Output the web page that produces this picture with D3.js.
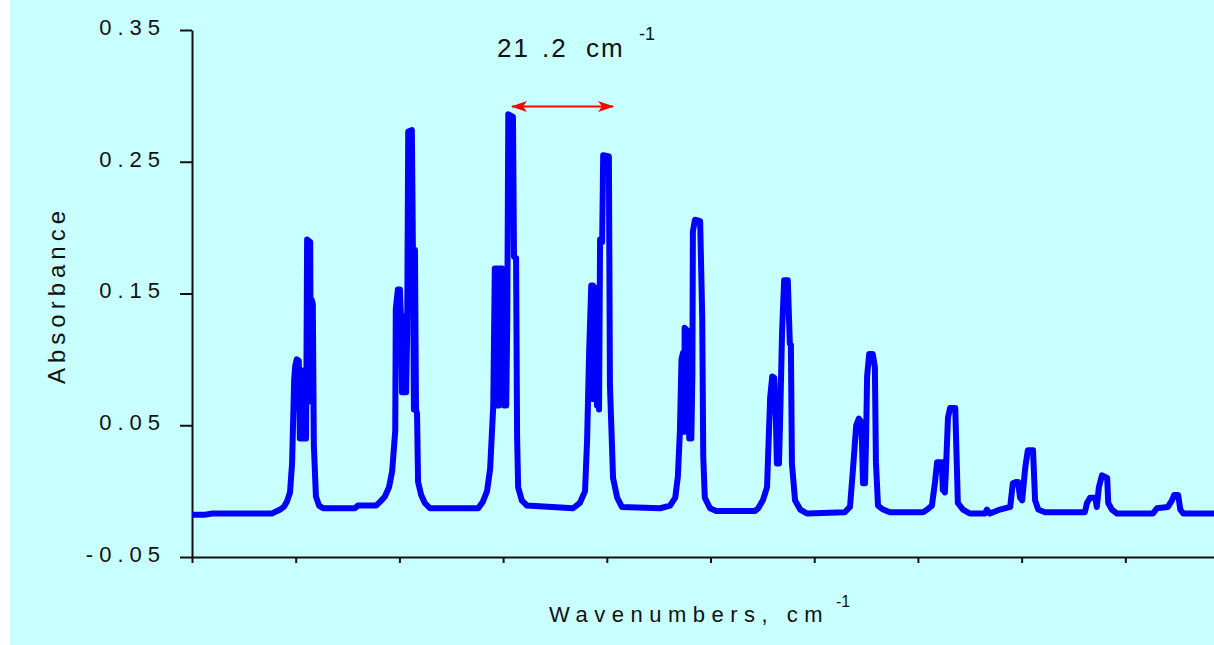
<!DOCTYPE html>
<html>
<head>
<meta charset="utf-8">
<script src="https://cdn.jsdelivr.net/npm/d3@7"></script>
<style>
  html, body { margin: 0; padding: 0; background: #fff; }
  svg { display: block; }
  text { font-family: "Liberation Sans", Arial, sans-serif; fill: #111; }
</style>
</head>
<body>
<div id="chart"></div>
<script>
// spectrum: wavenumber (cm-1) and absorbance
const wavenumbers = [
  2880.0, 2882.3, 2883.9, 2895.4, 2897.0, 2897.7, 2898.3, 2898.9, 2899.3, 2899.7, 2899.9, 2900.2, 2900.6,
  2900.8, 2901.0, 2901.2, 2901.4, 2901.6, 2901.8, 2902.0, 2902.2, 2902.8, 2902.9, 2903.1, 2903.3, 2903.5, 2903.9,
  2904.5, 2905.3, 2911.4, 2912.0, 2915.5, 2916.3, 2917.2, 2918.0, 2918.6, 2919.2, 2919.3, 2919.7, 2920.1,
  2920.3, 2920.5, 2920.7, 2920.9, 2921.1, 2921.3, 2921.5, 2921.7, 2922.4, 2922.6, 2922.8, 2923.0, 2923.2,
  2923.4, 2923.6, 2924.2, 2924.9, 2925.9,
  2935.2, 2936.1, 2936.9, 2937.5, 2938.1, 2938.4, 2938.9, 2938.9, 2939.2, 2939.2, 2939.8, 2940.0, 2940.2,
  2940.4, 2940.6, 2940.8, 2941.0, 2941.9, 2942.1, 2942.5, 2942.7, 2942.9, 2943.6, 2944.6, 2953.5,
  2954.8, 2955.8, 2956.2, 2956.6, 2957.0, 2957.3, 2957.3, 2957.5, 2957.5, 2957.9, 2958.1, 2958.3, 2958.5,
  2958.7, 2959.1, 2959.3, 2960.4, 2960.6, 2961.2, 2962.0, 2962.9, 2970.3,
  2972.2, 2973.2, 2973.7, 2974.1, 2974.4, 2974.7, 2974.7, 2975.0, 2975.0, 2975.5, 2975.7, 2975.9, 2976.1,
  2976.3, 2976.5, 2976.6, 2977.0, 2978.0, 2978.4, 2978.6, 2978.9, 2979.9, 2981.1, 2988.6,
  2989.2, 2990.1, 2990.9, 2991.1, 2991.5, 2991.9, 2992.3, 2992.6, 2992.8, 2993.0, 2993.2, 2993.4, 2993.8,
  2994.2, 2994.9, 2995.3, 2995.5, 2995.7, 2996.3, 2997.3, 2998.6, 3005.9,
  3006.9, 3007.5, 3008.1, 3008.6, 3009.0, 3009.2, 3009.4, 3009.6, 3009.8, 3010.0, 3010.2, 3010.6, 3011.3,
  3011.7, 3011.9, 3012.3, 3013.3, 3014.6, 3021.0,
  3021.8, 3022.7, 3023.3, 3023.7, 3024.6, 3024.8, 3025.0, 3025.2, 3025.4, 3025.8, 3026.2, 3027.2, 3027.5,
  3027.7, 3028.7, 3030.0, 3032.9, 3033.3, 3033.9, 3035.8,
  3037.8, 3038.3, 3038.9, 3039.3, 3039.7, 3040.1, 3040.7, 3041.2, 3042.2, 3042.6, 3043.2, 3044.5, 3052.2,
  3052.6, 3053.2, 3054.2, 3054.5, 3054.9, 3055.5, 3056.5, 3056.7, 3057.4, 3058.4, 3065.3,
  3066.1, 3068.2, 3069.0, 3069.4, 3070.2, 3070.6, 3071.2, 3077.1
];
const absorbance = [
  -0.018, -0.018, -0.017, -0.017, -0.014, -0.012, -0.008, -0.001, 0.021, 0.084, 0.095, 0.100, 0.099,
  0.040, 0.092, 0.040, 0.075, 0.040, 0.075, 0.040, 0.191, 0.189, 0.068, 0.145, 0.142, 0.035, -0.004,
  -0.011, -0.013, -0.013, -0.011, -0.011, -0.008, -0.004, 0.003, 0.015, 0.046, 0.138, 0.153, 0.153,
  0.131, 0.075, 0.133, 0.075, 0.131, 0.075, 0.122, 0.273, 0.274, 0.185, 0.062, 0.183, 0.062,
  0.059, 0.007, -0.003, -0.009, -0.013,
  -0.013, -0.008, 0.000, 0.017, 0.065, 0.169, 0.169, 0.065, 0.065, 0.169, 0.169, 0.131, 0.065,
  0.130, 0.065, 0.128, 0.286, 0.284, 0.178, 0.177, 0.041, 0.003, -0.007, -0.011, -0.013,
  -0.009, 0.000, 0.039, 0.107, 0.156, 0.156, 0.070, 0.070, 0.155, 0.154, 0.065, 0.145, 0.062,
  0.191, 0.189, 0.255, 0.254, 0.081, 0.010, -0.005, -0.012, -0.013,
  -0.011, -0.005, 0.011, 0.046, 0.100, 0.105, 0.045, 0.045, 0.124, 0.122, 0.094, 0.040, 0.092,
  0.040, 0.088, 0.197, 0.206, 0.205, 0.132, 0.026, -0.005, -0.013, -0.015, -0.015,
  -0.013, -0.007, 0.003, 0.026, 0.071, 0.087, 0.086, 0.056, 0.021, 0.054, 0.021, 0.050, 0.121,
  0.160, 0.160, 0.112, 0.111, 0.021, -0.007, -0.014, -0.017, -0.016,
  -0.012, 0.018, 0.050, 0.055, 0.053, 0.039, 0.006, 0.037, 0.006, 0.039, 0.087, 0.104, 0.104,
  0.094, 0.022, -0.011, -0.014, -0.016, -0.016,
  -0.014, -0.011, 0.007, 0.022, 0.022, 0.001, 0.016, -0.001, 0.016, 0.056, 0.063, 0.063, 0.020,
  -0.009, -0.014, -0.017, -0.017, -0.014, -0.017, -0.014,
  -0.012, 0.006, 0.007, 0.007, -0.005, -0.007, 0.018, 0.031, 0.031, -0.007, -0.014, -0.016, -0.016,
  -0.009, -0.005, -0.005, -0.012, 0.003, 0.012, 0.010, -0.009, -0.014, -0.017, -0.017,
  -0.013, -0.012, -0.007, -0.003, -0.003, -0.014, -0.017, -0.017
];
const yTicks = [-0.05, 0.05, 0.15, 0.25, 0.35];
const xTicks = [2880, 2900, 2920, 2940, 2960, 2980, 3000, 3020, 3040, 3060];
// line spacing marker between the two tallest lines
const spacingFrom = 2941.7;
const spacingTo = 2961.2;
const spacingLevel = 0.292;

const width = 1214, height = 645;
const svg = d3.select("#chart").append("svg")
  .attr("width", width)
  .attr("height", height);

svg.append("rect")
  .attr("x", 10).attr("y", 0)
  .attr("width", width - 10).attr("height", height)
  .attr("fill", "#c8ffff");

const x = d3.scaleLinear().domain([2880, 3077.1]).range([192, 1214]);
const y = d3.scaleLinear().domain([-0.05, 0.35]).range([557, 30]);

// axes
const yAxis = svg.append("g")
  .attr("transform", "translate(192,0)")
  .call(d3.axisLeft(y).tickValues(yTicks).tickSize(12).tickSizeOuter(0).tickPadding(14)
    .tickFormat(d => d.toFixed(2)));
yAxis.selectAll("path, line").attr("stroke", "#111").attr("stroke-width", 2);
yAxis.selectAll("text")
  .attr("font-size", 22)
  .attr("letter-spacing", 6)
  .attr("dy", "0.2em")
  .attr("fill", "#111");

const xAxis = svg.append("g")
  .attr("transform", "translate(0,557)")
  .call(d3.axisBottom(x).tickValues(xTicks).tickSize(6).tickSizeOuter(0).tickFormat(""));
xAxis.selectAll("path, line").attr("stroke", "#111").attr("stroke-width", 2);

// spectrum
const line = d3.line()
  .x((d, i) => x(wavenumbers[i]))
  .y((d, i) => y(absorbance[i]));

svg.append("path")
  .datum(wavenumbers)
  .attr("d", line)
  .attr("fill", "none")
  .attr("stroke", "#0000ff")
  .attr("stroke-width", 6)
  .attr("stroke-linejoin", "round");

// red double arrow
svg.append("defs").append("marker")
  .attr("id", "head")
  .attr("viewBox", "0 -6 16 12")
  .attr("refX", 15).attr("refY", 0)
  .attr("markerUnits", "userSpaceOnUse")
  .attr("markerWidth", 16).attr("markerHeight", 12)
  .attr("orient", "auto-start-reverse")
  .append("path")
  .attr("d", "M16,0 L0,-5.5 L4,0 L0,5.5 Z")
  .attr("fill", "#ff0000");

svg.append("line")
  .attr("x1", x(spacingFrom)).attr("x2", x(spacingTo))
  .attr("y1", y(spacingLevel)).attr("y2", y(spacingLevel))
  .attr("stroke", "#ff0000")
  .attr("stroke-width", 2)
  .attr("marker-start", "url(#head)")
  .attr("marker-end", "url(#head)");

const note = svg.append("text").attr("y", 57).attr("font-size", 26);
note.append("tspan").attr("x", 497).attr("letter-spacing", 2).text("21");
note.append("tspan").attr("x", 542).attr("letter-spacing", 2).text(".2");
note.append("tspan").attr("x", 586).attr("letter-spacing", 2).text("cm");
note.append("tspan").attr("x", 639).attr("y", 40).attr("font-size", 18).text("-1");

// axis titles
svg.append("text")
  .attr("transform", "translate(65,295) rotate(-90)")
  .attr("text-anchor", "middle")
  .attr("font-size", 24)
  .attr("letter-spacing", 5)
  .text("Absorbance");

const xt = svg.append("text").attr("y", 622).attr("font-size", 22);
xt.append("tspan").attr("x", 549).attr("letter-spacing", 6.5).text("Wavenumbers, cm");
xt.append("tspan").attr("x", 836).attr("y", 607).attr("font-size", 16).text("-1");
</script>
</body>
</html>
